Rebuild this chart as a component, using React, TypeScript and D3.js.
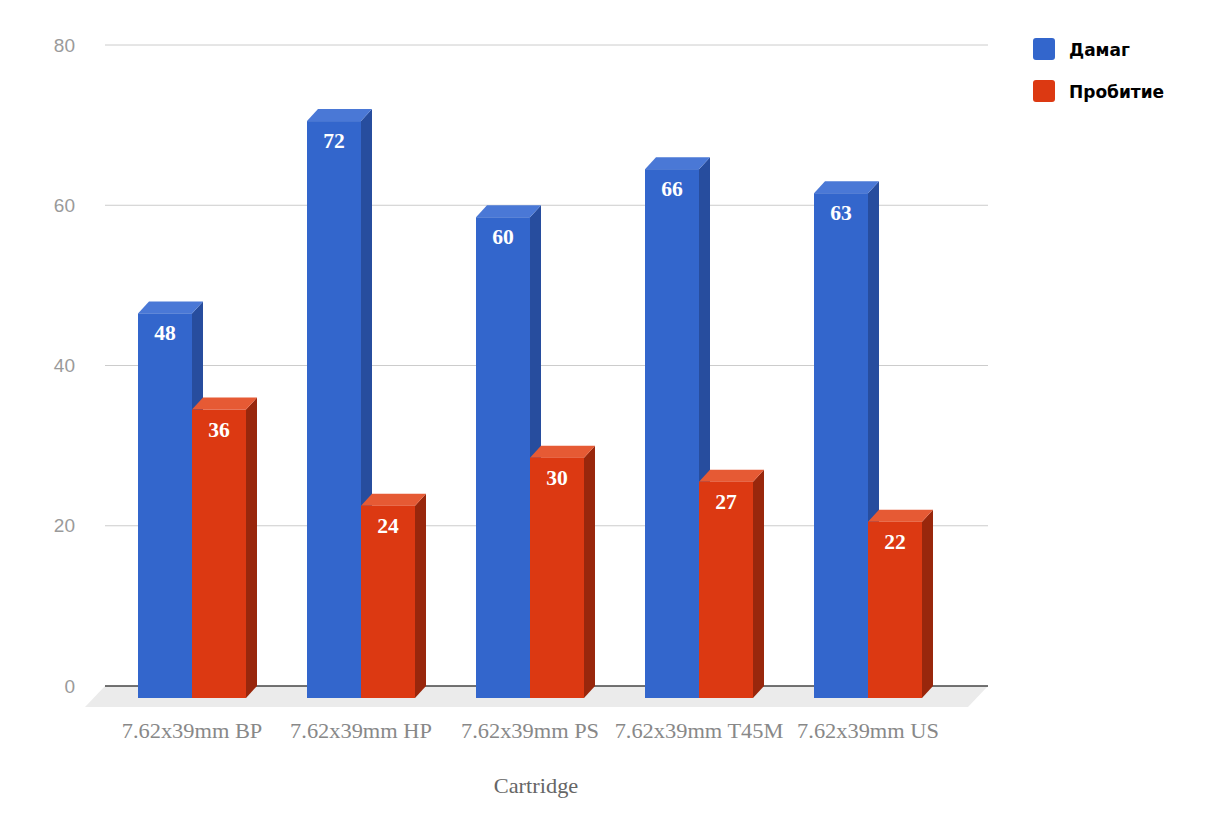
import * as d3 from "d3";

const WIDTH = 1208;
const HEIGHT = 820;

const categories = [
  "7.62x39mm BP",
  "7.62x39mm HP",
  "7.62x39mm PS",
  "7.62x39mm T45M",
  "7.62x39mm US",
];
const damage = [48, 72, 60, 66, 63];
const penetration = [36, 24, 30, 27, 22];
const yTicks = [0, 20, 40, 60, 80];

const seriesNames = ["Дамаг", "Пробитие"];
const COLORS = [
  { front: "#3366cc", top: "#4a78d6", side: "#274d9e" },
  { front: "#dc3912", top: "#e65a34", side: "#99270c" },
];

// 3d offset of the front face relative to the back plane
const DX = -11;
const DY = 12;
const BAR_W = 54;
// the reference text looks a bit stretched sideways
const STRETCH = 1.12;

const PLOT = { left: 105, right: 988, top: 45, bottom: 686 };

export default function App() {
  const yScale = d3.scaleLinear().domain([0, 80]).range([PLOT.bottom, PLOT.top]);
  const xScale = d3
    .scalePoint<string>()
    .domain(categories)
    .range([203, 879]);

  const series = [damage, penetration];

  const bars = categories.map((cat, i) => {
    const cx = xScale(cat)!;
    return series.map((vals, s) => {
      const c = COLORS[s];
      const bx = cx - BAR_W + s * BAR_W; // back-plane left
      const by = yScale(vals[i]);
      const fx = bx + DX;
      const fy = by + DY;
      const fb = PLOT.bottom + DY;
      const top = `M${fx},${fy}L${bx},${by}L${bx + BAR_W},${by}L${fx + BAR_W},${fy}Z`;
      const side = `M${fx + BAR_W},${fy}L${bx + BAR_W},${by}L${bx + BAR_W},${PLOT.bottom}L${fx + BAR_W},${fb}Z`;
      return (
        <g key={`${i}-${s}`}>
          <path d={side} fill={c.side} />
          <path d={top} fill={c.top} />
          <rect x={fx} y={fy} width={BAR_W} height={fb - fy} fill={c.front} />
          <text
            transform={`translate(${fx + BAR_W / 2},${fy + 27}) scale(1.08,1)`}
            textAnchor="middle"
            fill="#ffffff"
            fontFamily="'Liberation Serif', serif"
            fontWeight="bold"
            fontSize={20}
          >
            {vals[i]}
          </text>
        </g>
      );
    });
  });

  return (
    <svg width={WIDTH} height={HEIGHT} style={{ display: "block", margin: -8 }}>
      <rect width={WIDTH} height={HEIGHT} fill="#ffffff" />
      {/* floor */}
      <path
        d={`M${PLOT.left},${PLOT.bottom}L${PLOT.right},${PLOT.bottom}L${PLOT.right - 20},${PLOT.bottom + 21}L${PLOT.left - 20},${PLOT.bottom + 21}Z`}
        fill="#ebebeb"
      />
      {yTicks.map((t) => (
        <g key={t}>
          {t > 0 && (
            <line
              x1={PLOT.left}
              x2={PLOT.right}
              y1={yScale(t)}
              y2={yScale(t)}
              stroke="#cccccc"
              strokeWidth={1}
            />
          )}
          <text
            x={75}
            y={yScale(t)}
            dy="0.35em"
            textAnchor="end"
            fill="#9a9a9a"
            fontFamily="'Liberation Sans', Arial, sans-serif"
            fontSize={19}
          >
            {t}
          </text>
        </g>
      ))}
      <line
        x1={PLOT.left}
        x2={PLOT.right}
        y1={PLOT.bottom}
        y2={PLOT.bottom}
        stroke="#444444"
        strokeWidth={1.5}
      />
      {bars}
      {categories.map((cat) => (
        <text
          key={cat}
          transform={`translate(${xScale(cat)! + DX},738) scale(${STRETCH},1)`}
          textAnchor="middle"
          fill="#888888"
          fontFamily="'Liberation Serif', serif"
          fontSize={20}
        >
          {cat}
        </text>
      ))}
      <text
        transform={`translate(536,793) scale(${STRETCH},1)`}
        textAnchor="middle"
        fill="#666666"
        fontFamily="'Liberation Serif', serif"
        fontSize={20}
      >
        Cartridge
      </text>
      {seriesNames.map((name, s) => (
        <g key={name} transform={`translate(1033,${38 + s * 42})`}>
          <rect width={22} height={22} rx={3} fill={COLORS[s].front} />
          <text
            x={36}
            y={18}
            fill="#000000"
            fontFamily="'DejaVu Sans', sans-serif"
            fontWeight="bold"
            fontSize={17}
          >
            {name}
          </text>
        </g>
      ))}
    </svg>
  );
}
